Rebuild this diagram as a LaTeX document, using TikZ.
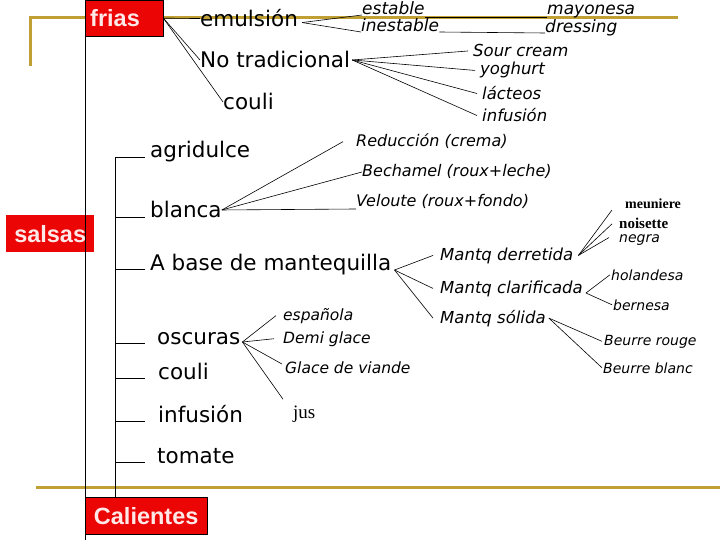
\documentclass[tikz,border=0pt]{standalone}
\usepackage{fontspec}
\setmainfont{DejaVu Sans}[ItalicFont={DejaVu Sans Oblique}]
\newfontfamily\arialfont{Liberation Sans}
\newfontfamily\timesfont{Liberation Serif}
\usepackage{tikz}
\usetikzlibrary{positioning}
\definecolor{rojo}{RGB}{235,5,5}
\definecolor{oro}{RGB}{192,160,52}
\definecolor{rosado}{RGB}{255,232,232}
\newcommand{\fsz}[1]{\fontsize{#1}{#1}\selectfont}

\begin{document}
\begin{tikzpicture}[
    x=1pt, y=-1pt,
    caja/.style={fill=rojo, text=rosado, inner sep=0pt, font=\arialfont\bfseries\fsz{23.5}},
    grande/.style={anchor=base west, inner sep=0pt, font=\fsz{21.5}},
    cursiva/.style={anchor=base west, inner sep=0pt, font=\itshape\fsz{#1}},
    serif/.style={anchor=base west, inner sep=0pt, font=\timesfont\fsz{#1}},
    rama/.style={draw=black, line width=0.6pt},
    franja/.style={draw=oro, line width=3pt}
]
\useasboundingbox (0,0) rectangle (720,540);

\draw[franja] (30,66) -- (30,18) -- (678,18);
\draw[franja] (36,487) -- (720,487);

\node[caja, draw=black, anchor=north west, minimum height=36pt, text width=68pt, inner xsep=5pt, align=left] (frias) at (85,0) {frias};
\node[caja, anchor=north west, minimum width=88pt, minimum height=37pt] (salsas) at (6,215) {salsas};
\node[caja, draw=black, anchor=north west, minimum width=122pt, minimum height=37pt] (calientes) at (85,497) {Calientes};

\node[grande] (emulsion) at (200,27) {emulsión};
\node[grande] (notrad) at (200,68) {No tradicional};
\node[grande] (coulif) at (223,110) {couli};
\node[grande] (agridulce) at (150,158) {agridulce};
\node[grande] (blanca) at (150,218) {blanca};
\node[grande] (mantequilla) at (150,270) {A base de mantequilla};
\node[grande] (oscuras) at (157,344) {oscuras};
\node[grande] (coulic) at (158,379) {couli};
\node[grande] (infusionc) at (158,422) {infusión};
\node[grande] (tomate) at (157,463) {tomate};

\node[cursiva=17] (estable) at (362,15) {estable};
\node[cursiva=17] (inestable) at (361,32) {inestable};
\node[cursiva=17] (mayonesa) at (547,15) {mayonesa};
\node[cursiva=17] (dressing) at (545,33) {dressing};
\node[cursiva=16.5] (sour) at (473,57) {Sour cream};
\node[cursiva=16.5] (yoghurt) at (480,75) {yoghurt};
\node[cursiva=16.5] (lacteos) at (482,100) {lácteos};
\node[cursiva=16.5] (infusionf) at (482,122) {infusión};
\node[cursiva=16] (reduccion) at (356,147) {Reducción (crema)};
\node[cursiva=16] (bechamel) at (362,177) {Bechamel (roux+leche)};
\node[cursiva=16] (veloute) at (356,207) {Veloute (roux+fondo)};
\node[cursiva=16.5] (derretida) at (440,260) {Mantq derretida};
\node[cursiva=16.5] (clarificada) at (440,293) {Mantq clarificada};
\node[cursiva=16.5] (solida) at (440,323) {Mantq sólida};
\node[cursiva=15.5] (espanola) at (283,320) {española};
\node[cursiva=15.5] (demi) at (283,343) {Demi glace};
\node[cursiva=15.5] (glace) at (285,373) {Glace de viande};
\node[serif=19] (jus) at (293,418) {jus};
\node[serif=14, font=\timesfont\bfseries\fsz{14}] (meuniere) at (625,208) {meuniere};
\node[serif=15, font=\timesfont\bfseries\fsz{15}] (noisette) at (619,229) {noisette};
\node[cursiva=14] (negra) at (619,243) {negra};
\node[cursiva=14] (holandesa) at (611,280) {holandesa};
\node[cursiva=14] (bernesa) at (613,310) {bernesa};
\node[cursiva=14] (rouge) at (604,345) {Beurre rouge};
\node[cursiva=14] (blanc) at (603,373) {Beurre blanc};

\coordinate (fondo) at (85,540);
\coordinate (tronco) at (115,157);
\coordinate (ramas) at (145,157);

\draw[rama] (frias.south west) -- (fondo);
\draw[rama] (tronco) -- (tronco |- calientes.north);
\foreach \n in {agridulce,blanca,mantequilla,oscuras,coulic,infusionc,tomate}
    \draw[rama] ([yshift=1pt]tronco |- \n.base west) -- ([yshift=1pt]ramas |- \n.base west);

\draw[rama] (frias.east) -- (emulsion.west);
\draw[rama] (frias.east) -- (notrad.west);
\draw[rama] (frias.east) -- (coulif.west);

\draw[rama] ([xshift=4pt,yshift=-4pt]emulsion.east) -- (estable.base west);
\draw[rama] ([xshift=4pt,yshift=-4pt]emulsion.east) -- (inestable.base west);
\draw[rama] ([yshift=-2pt]estable.base east) -- ([yshift=-2pt]mayonesa.base west);
\draw[rama] (inestable.base east) -- (dressing.base west);

\foreach \d in {sour,yoghurt,lacteos,infusionf}
    \draw[rama] ([xshift=2pt]notrad.east) -- ([xshift=-5pt]\d.west);

\draw[rama] (blanca.east) -- ([xshift=-13pt]reduccion.west);
\draw[rama] (blanca.east) -- (bechamel.west);
\draw[rama] (blanca.east) -- ([yshift=-2pt]veloute.base west);

\foreach \d in {derretida,clarificada,solida}
    \draw[rama] ([xshift=3pt]mantequilla.base east) -- ([xshift=-7pt]\d.west);

\draw[rama] ([xshift=2pt,yshift=2pt]oscuras.base east) -- ([xshift=-7pt]espanola.west);
\draw[rama] ([xshift=2pt,yshift=2pt]oscuras.base east) -- ([xshift=-9pt]demi.west);
\draw[rama] ([xshift=2pt,yshift=2pt]oscuras.base east) -- ([xshift=-3pt,yshift=-3pt]glace.north west);
\draw[rama] ([xshift=2pt,yshift=2pt]oscuras.base east) -- ([xshift=-10pt,yshift=6pt]jus.north west);

\draw[rama] ([xshift=5pt]derretida.east) -- ([xshift=-13pt,yshift=-2pt]meuniere.base west);
\draw[rama] ([xshift=5pt]derretida.east) -- ([xshift=-7pt]noisette.west);
\draw[rama] ([xshift=5pt]derretida.east) -- ([xshift=-10pt,yshift=3pt]negra.west);

\draw[rama] ([xshift=3pt]clarificada.base east) -- ([xshift=-1pt]holandesa.west);
\draw[rama] ([xshift=3pt]clarificada.base east) -- ([xshift=-1pt]bernesa.west);

\draw[rama] ([xshift=3pt]solida.east) -- ([xshift=-2pt]rouge.west);
\draw[rama] ([xshift=3pt]solida.east) -- ([xshift=-1pt]blanc.west);
\end{tikzpicture}
\end{document}
